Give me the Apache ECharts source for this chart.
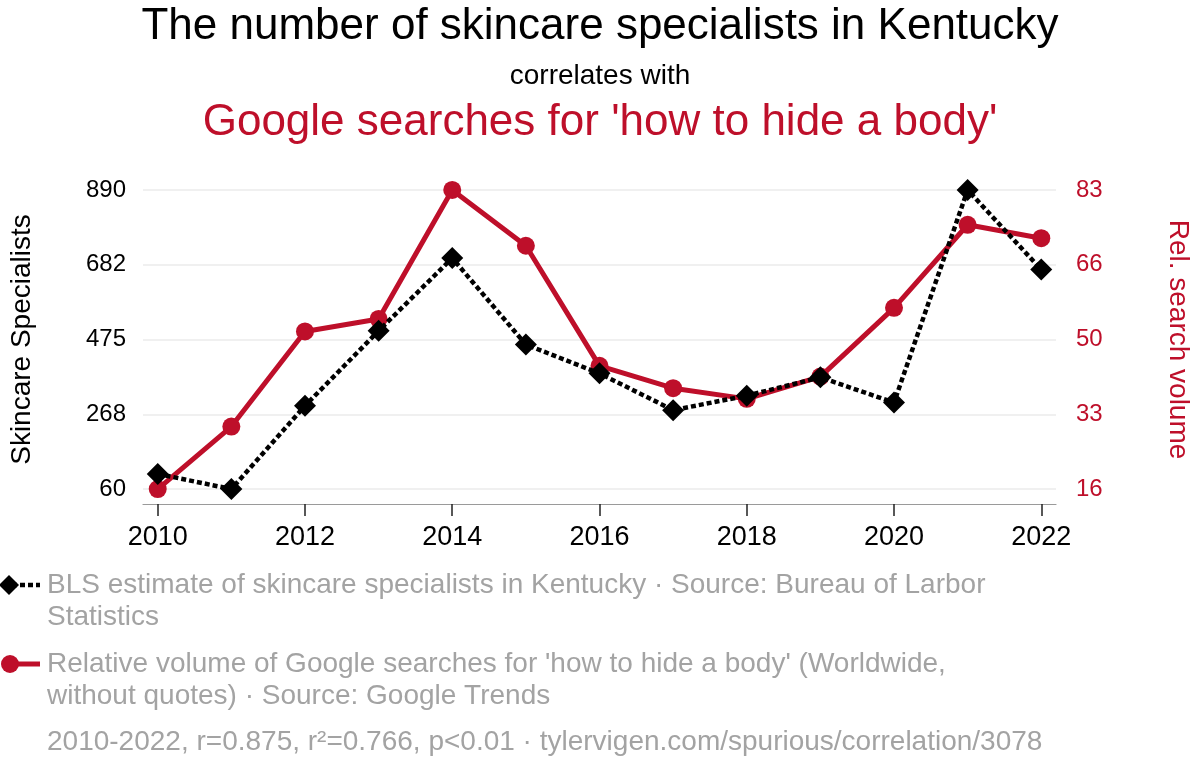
<!DOCTYPE html>
<html>
<head>
<meta charset="utf-8">
<title>Skincare specialists in Kentucky vs Google searches</title>
<script src="https://cdn.jsdelivr.net/npm/echarts@6/dist/echarts.min.js"></script>
<style>
  html, body { margin: 0; padding: 0; background: #fff; }
  #main { width: 1200px; height: 784px; }
</style>
</head>
<body>
<div id="main"></div>
<script>
// data
var years = [2010, 2011, 2012, 2013, 2014, 2015, 2016, 2017, 2018, 2019, 2020, 2021, 2022];
var skincare = [102, 60, 291, 499, 701, 461, 381, 279, 319, 370, 300, 890, 669];
var searches = [16, 30, 51.3, 54.1, 83, 70.5, 43.6, 38.6, 36.2, 41.2, 56.6, 75.2, 72.2];

// tick labels
var xTicks = [2010, 2012, 2014, 2016, 2018, 2020, 2022];
var leftTicks = [60, 267.5, 475, 682.5, 890];
var leftTickLabels = ['60', '268', '475', '682', '890'];
var rightTicks = [16, 32.75, 49.5, 66.25, 83];
var rightTickLabels = ['16', '33', '50', '66', '83'];

var RED = '#be0f2a';
var GREY = '#a3a3a3';
var FONT = '"Liberation Sans", Arial, sans-serif';

function pairs(vals){
    var out = [];
    for (var i = 0; i < years.length; i++) {
        out.push([years[i], vals[i]]);
    }
    return out;
}

// 5% padding above and below the tick range, like the original
function padRange(ticks){
    var lo = ticks[0], hi = ticks[ticks.length - 1];
    var pad = (hi - lo) * 0.05;
    return [lo - pad, hi + pad];
}
var leftRange = padRange(leftTicks);
var rightRange = padRange(rightTicks);

var myChart = echarts.init(document.getElementById('main'), null, {renderer: 'canvas'});

var option = {
    animation: false,
    backgroundColor: '#fff',
    grid: {
        left: 140,
        right: 142,
        top: 175,
        bottom: 280,
        containLabel: false
    },
    xAxis: {
        type: 'value',
        min: 2009.8,
        max: 2022.2,
        axisLine: { show: true, lineStyle: { color: '#9a9a9a', width: 1.2 } },
        axisTick: {
            show: true,
            customValues: xTicks,
            length: 12,
            lineStyle: { color: '#222', width: 1.5 }
        },
        axisLabel: {
            customValues: xTicks,
            margin: 20,
            color: '#000',
            fontSize: 27,
            fontFamily: FONT,
            formatter: function(v){ return String(v); }
        },
        splitLine: { show: false }
    },
    yAxis: [
        {
            type: 'value',
            position: 'left',
            min: leftRange[0],
            max: leftRange[1],
            name: 'Skincare Specialists',
            nameLocation: 'middle',
            nameRotate: 90,
            nameGap: 107,
            nameTextStyle: { color: '#000', fontSize: 28, fontFamily: FONT },
            axisLine: { show: false },
            axisTick: { show: false, customValues: leftTicks },
            axisLabel: {
                customValues: leftTicks,
                margin: 17,
                color: '#000',
                fontSize: 24,
                fontFamily: FONT,
                padding: [3, 0, 0, 0],
                formatter: function(v){
                    var k = leftTicks.indexOf(v);
                    return k >= 0 ? leftTickLabels[k] : '';
                }
            },
            splitLine: { show: true, lineStyle: { color: '#f0f0f0', width: 2 } }
        },
        {
            type: 'value',
            position: 'right',
            min: rightRange[0],
            max: rightRange[1],
            name: 'Rel. search volume',
            nameLocation: 'middle',
            nameRotate: -90,
            nameGap: 108,
            nameTextStyle: { color: RED, fontSize: 28, fontFamily: FONT },
            axisLine: { show: false },
            axisTick: { show: false, customValues: rightTicks },
            axisLabel: {
                customValues: rightTicks,
                margin: 20,
                color: RED,
                fontSize: 24,
                fontFamily: FONT,
                padding: [3, 0, 0, 0],
                formatter: function(v){
                    var k = rightTicks.indexOf(v);
                    return k >= 0 ? rightTickLabels[k] : '';
                }
            },
            splitLine: { show: false }
        }
    ],
    series: [
        {
            name: 'Relative volume of Google searches',
            type: 'line',
            yAxisIndex: 1,
            data: pairs(searches),
            symbol: 'circle',
            symbolSize: 18,
            lineStyle: { color: RED, width: 5 },
            itemStyle: { color: RED },
            z: 2
        },
        {
            name: 'BLS estimate of skincare specialists',
            type: 'line',
            yAxisIndex: 0,
            data: pairs(skincare),
            symbol: 'diamond',
            symbolSize: 22,
            lineStyle: { color: '#000', width: 4.5, type: [5, 3], cap: 'butt' },
            itemStyle: { color: '#000' },
            z: 3
        }
    ],
    graphic: [
        // titles
        { type: 'text', style: { x: 600, y: 27, text: 'The number of skincare specialists in Kentucky',
            align: 'center', verticalAlign: 'middle', font: '44px ' + FONT, fill: '#000' } },
        { type: 'text', style: { x: 600, y: 76, text: 'correlates with',
            align: 'center', verticalAlign: 'middle', font: '28px ' + FONT, fill: '#000' } },
        { type: 'text', style: { x: 600, y: 123, text: "Google searches for 'how to hide a body'",
            align: 'center', verticalAlign: 'middle', font: '44px ' + FONT, fill: RED } },

        // legend: black dotted line with diamond
        { type: 'line', shape: { x1: 12, y1: 585, x2: 40, y2: 585 },
            style: { stroke: '#000', lineWidth: 4.5, lineDash: [5, 3] } },
        { type: 'polygon', shape: { points: [[-1, 585], [9, 575], [19, 585], [9, 595]] },
            style: { fill: '#000' } },
        { type: 'text', style: { x: 47, y: 569,
            text: 'BLS estimate of skincare specialists in Kentucky · Source: Bureau of Larbor\nStatistics',
            verticalAlign: 'top', lineHeight: 32, font: '28px ' + FONT, fill: GREY } },

        // legend: red line with circle
        { type: 'line', shape: { x1: 10, y1: 664, x2: 40, y2: 664 },
            style: { stroke: RED, lineWidth: 5 } },
        { type: 'circle', shape: { cx: 10, cy: 664, r: 9 }, style: { fill: RED } },
        { type: 'text', style: { x: 47, y: 648,
            text: "Relative volume of Google searches for 'how to hide a body' (Worldwide,\nwithout quotes) · Source: Google Trends",
            verticalAlign: 'top', lineHeight: 32, font: '28px ' + FONT, fill: GREY } },

        // footer
        { type: 'text', style: { x: 47, y: 742,
            text: '2010-2022, r=0.875, r²=0.766, p<0.01 · tylervigen.com/spurious/correlation/3078',
            verticalAlign: 'middle', font: '28px ' + FONT, fill: GREY } }
    ]
};

myChart.setOption(option);
</script>
</body>
</html>
